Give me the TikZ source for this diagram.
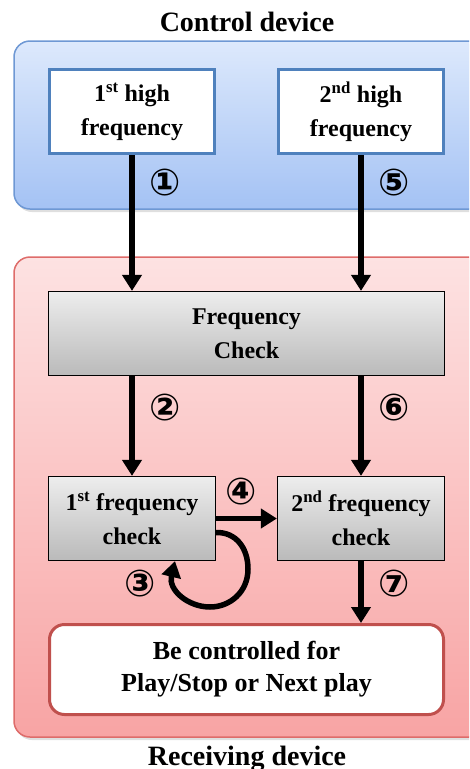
\documentclass[tikz,border=0pt]{standalone}
\usepackage{fontspec}
\setmainfont{Liberation Serif}
\newfontfamily\circfont{DejaVu Sans Bold}
\usetikzlibrary{arrows.meta,shadows}
\definecolor{skytop}{RGB}{221,233,252}
\definecolor{skybottom}{RGB}{164,194,244}
\definecolor{skyline}{RGB}{110,152,212}
\definecolor{steelblue}{RGB}{79,129,189}
\definecolor{rosetop}{RGB}{253,226,226}
\definecolor{rosebottom}{RGB}{248,164,164}
\definecolor{roseline}{RGB}{222,108,106}
\definecolor{brickred}{RGB}{192,80,77}
\definecolor{silvertop}{RGB}{237,237,237}
\definecolor{silverbottom}{RGB}{186,186,186}

\tikzset{
  freqbox/.style  ={draw=steelblue, line width=3pt, fill=white, minimum width=165pt, minimum height=84pt,
                    align=center, font=\bfseries\fontsize{24}{34}\selectfont},
  checkbox/.style ={draw=black, line width=1.2pt, top color=silvertop, bottom color=silverbottom,
                    minimum height=84pt, align=center, font=\bfseries\fontsize{24}{34}\selectfont},
  resultbox/.style={draw=brickred, line width=3pt, fill=white, rounded corners=15pt, minimum width=394pt,
                    minimum height=90pt, align=center, font=\bfseries\fontsize{26}{32}\selectfont},
  devtitle/.style ={anchor=base, font=\bfseries\fontsize{28}{28}\selectfont},
  stepnum/.style  ={inner sep=0pt, font=\circfont\fontsize{37}{37}\selectfont},
  flow/.style     ={line width=5.5pt, -{Triangle[width=19pt,length=16pt]}},
}

\begin{document}
\begin{tikzpicture}[x=1pt, y=-1pt]
    \useasboundingbox (0,0) rectangle (469,769);
    \clip (0,0) rectangle (469,769);
    % device areas
    \path[draw=skyline,  line width=1.5pt, top color=skytop,  bottom color=skybottom, rounded corners=16pt,
          drop shadow={opacity=0.25, shadow xshift=2pt, shadow yshift=-3pt}] (14, 41) rectangle (490,209);
    \path[draw=roseline, line width=1.5pt, top color=rosetop, bottom color=rosebottom, rounded corners=16pt,
          drop shadow={opacity=0.25, shadow xshift=2pt, shadow yshift=-3pt}] (14,257) rectangle (490,737);
    \node[devtitle] (ctrl) at (247, 31) {Control device};
    \node[devtitle] (recv) at (247,765) {Receiving device};

    % boxes
    \node[freqbox]                    (hf1)  at (132.0,111.5) {1\textsuperscript{st} high\\frequency};
    \node[freqbox]                    (hf2)  at (361.0,111.5) {2\textsuperscript{nd} high\\frequency};
    \node[checkbox, minimum width=396pt] (fchk) at (246.5,333.5) {Frequency\\Check};
    \node[checkbox, minimum width=167pt] (fc1)  at (132.0,518.5) {1\textsuperscript{st} frequency\\check};
    \node[checkbox, minimum width=167pt] (fc2)  at (361.0,518.5) {2\textsuperscript{nd} frequency\\check};
    \node[resultbox]                  (ctl)  at (246.5,669.5) {Be controlled for\\Play/Stop or Next play};

    % arrows
    \draw[flow] (hf1.south) -- (hf1.south |- fchk.north);
    \draw[flow] (hf2.south) -- (hf2.south |- fchk.north);
    \draw[flow] (hf1.south |- fchk.south) -- (fc1.north);
    \draw[flow] (hf2.south |- fchk.south) -- (fc2.north);
    \draw[flow] (fc1) -- (fc2);
    \draw[flow] (fc2.south) -- (fc2.south |- ctl.north);
    \draw[flow] ([yshift=-14pt]fc1.east) .. controls (236,532) and (248,548) .. (248,569)
                .. controls (248,592) and (230,607) .. (210,607)
                .. controls (188,607) and (168,590) .. ([xshift=43pt]fc1.south);

    % step numbers
    \node[stepnum] (s1) at (165,183) {①};
    \node[stepnum] (s5) at (394,183) {⑤};
    \node[stepnum] (s2) at (165,408) {②};
    \node[stepnum] (s6) at (394,408) {⑥};
    \node[stepnum] (s4) at (241,492) {④};
    \node[stepnum] (s3) at (140,584) {③};
    \node[stepnum] (s7) at (394,584) {⑦};
\end{tikzpicture}
\end{document}
